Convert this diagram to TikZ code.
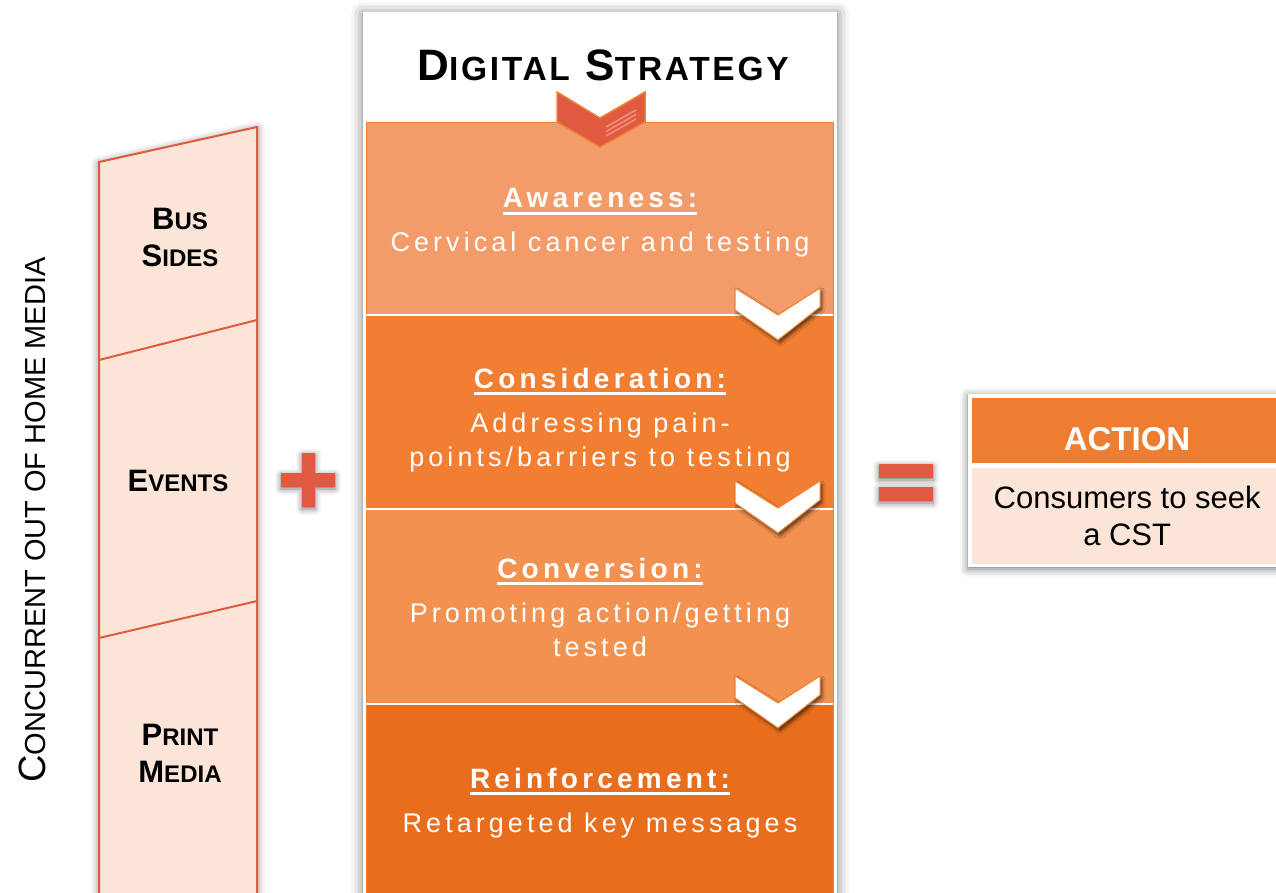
\documentclass[tikz,border=0pt]{standalone}
\usepackage{fontspec}
\setmainfont{Liberation Sans}
\newfontfamily\trackfont[LetterSpace=15]{Liberation Sans}
\newfontfamily\headfont[LetterSpace=8]{Liberation Sans}
\usetikzlibrary{positioning, shadows.blur}

\definecolor{awareC}{HTML}{F39C69}
\definecolor{considerC}{HTML}{F27E31}
\definecolor{convertC}{HTML}{F29150}
\definecolor{reinforceC}{HTML}{E86E1E}
\definecolor{edgeC}{HTML}{EE8233}
\definecolor{redC}{HTML}{DF5A40}
\definecolor{paleC}{HTML}{FBE5D8}
\definecolor{stripeC}{HTML}{F4917A}
\definecolor{actC}{HTML}{ED7D31}

% big first letter, rest in smaller capitals
\newcommand\capsc[3]{#2{\fontsize{#1}{#1}\selectfont #3}}
% heading with a thick underline
\newcommand\phasehead[1]{\setbox0\hbox{\fontsize{28}{28}\selectfont\bfseries #1}\rlap{\rule[-7pt]{\wd0}{3pt}}\box0}

\begin{document}
\begin{tikzpicture}[x=1pt, y=-1pt,
  glow/.style={blur shadow={shadow xshift=0pt, shadow yshift=-2pt, shadow blur radius=#1, shadow opacity=55}},
  glow/.default=8pt,
  phase/.style={rectangle, inner sep=0pt, minimum width=467pt, anchor=north west},
  phasetext/.style={text=white, align=center, font=\trackfont\fontsize{27}{34}\selectfont},
  media/.style={align=center, font=\bfseries\fontsize{31}{37}\selectfont},
  chevron/.style={fill=white, draw=edgeC, line width=1pt, line join=miter,
    blur shadow={shadow xshift=2pt, shadow yshift=-3pt, shadow blur radius=3pt, shadow opacity=60}},
  sign/.style={fill=redC, glow=6pt}]

  \useasboundingbox (0,0) rectangle (1276,892);
  \clip (0,0) rectangle (1276,892);

  % out of home media strip
  \draw[fill=paleC, draw=redC, line width=2pt, glow] (99,162) -- (257,127) -- (257,910) -- (99,910) -- cycle;
  \draw[redC, line width=2pt] (99,360) -- (257,320);
  \draw[redC, line width=2pt] (99,638) -- (257,601);

  \node[media] (bus) at (180,237) {\capsc{24}{B}{US}\\\capsc{24}{S}{IDES}};
  \node[media] (events) at (178,481) {\capsc{24}{E}{VENTS}};
  \node[media] (print) at (180,753) {\capsc{24}{P}{RINT}\\\capsc{24}{M}{EDIA}};

  \node[rotate=90, anchor=base, font=\fontsize{38}{38}\selectfont] (ooh) at (45,520)
    {\capsc{29}{C}{ONCURRENT OUT OF HOME MEDIA}};

  % plus
  \fill[sign] (302,453) -- (315,453) -- (315,473) -- (335,473) -- (335,487) -- (315,487)
    -- (315,507) -- (302,507) -- (302,487) -- (281,487) -- (281,473) -- (302,473) -- cycle;

  % digital strategy panel
  \fill[white, glow=12pt] (363,12) rectangle (837,910);
  \node[anchor=base, font=\headfont\bfseries\fontsize{44}{44}\selectfont] (dstitle) at (603,80)
    {\capsc{33.5}{D}{IGITAL} \capsc{33.5}{S}{TRATEGY}};

  \node[phase, fill=awareC, minimum height=193pt] (aware) at (366,122) {};
  \node[phase, fill=considerC, minimum height=193pt, below=0pt of aware] (consider) {};
  \node[phase, fill=convertC, minimum height=195pt, below=0pt of consider] (convert) {};
  \node[phase, fill=reinforceC, minimum height=200pt, below=0pt of convert] (reinforce) {};
  \draw[edgeC, line width=1pt] (aware.north west) rectangle (reinforce.south east);
  \foreach \p in {consider, convert, reinforce}
    \draw[white, line width=2pt] (\p.north west) -- (\p.north east);

  \filldraw[fill=redC, draw=edgeC, line width=1.5pt, line join=miter]
    (557,92) -- (600,118) -- (645,92) -- (645,122) -- (600,147) -- (557,122) -- cycle;
  \foreach \d in {0,4.5,9}
    \draw[stripeC, line width=1.5pt] (606,127+\d) -- (636,110+\d);

  \foreach \y in {315,508,703}
    \draw[chevron] (735,\y-27) -- (778,\y) -- (820,\y-27) -- (820,\y-8) -- (778,\y+25) -- (735,\y-5) -- cycle;

  \node[phasetext] (awaretxt) at (600,223)
    {\phasehead{Awareness:}\\[10pt]Cervical cancer and testing};
  \node[phasetext] (considertxt) at (600,420)
    {\phasehead{Consideration:}\\[10pt]Addressing pain-\\points/barriers to testing};
  \node[phasetext] (converttxt) at (600,607)
    {\phasehead{Conversion:}\\[10pt]Promoting action/getting\\tested};
  \node[phasetext] (reinforcetxt) at (600,803)
    {\phasehead{Reinforcement:}\\[10pt]Retargeted key messages};

  % equals
  \fill[sign] (879,464) rectangle (933,478);
  \fill[sign] (879,487) rectangle (933,501);

  % action box
  \fill[white, glow=8pt] (968,394) rectangle (1290,567);
  \node[rectangle, fill=actC, inner sep=0pt, minimum width=310pt, minimum height=65pt, anchor=north west] (acthead) at (972,398) {};
  \node[rectangle, fill=paleC, inner sep=0pt, minimum width=310pt, minimum height=96pt, below=4pt of acthead,
    align=center, font=\fontsize{31}{37}\selectfont] (actbody) {Consumers to seek\\a CST};
  \node[anchor=base, text=white, font=\bfseries\fontsize{33}{33}\selectfont] (acttitle) at (1127,450) {ACTION};
\end{tikzpicture}
\end{document}
